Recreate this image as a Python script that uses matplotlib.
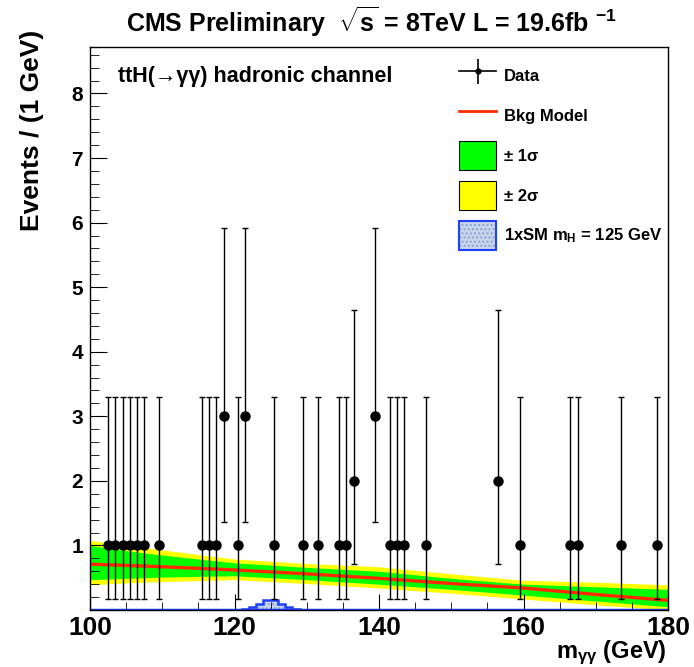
"""CMS ttH(->gg) hadronic channel: diphoton mass spectrum with background model."""

import matplotlib

matplotlib.use("Agg")
import matplotlib.pyplot as plt
from matplotlib.lines import Line2D
from matplotlib.patches import Patch
from matplotlib.legend_handler import HandlerTuple

plt.rcParams["font.family"] = ["Liberation Sans", "DejaVu Sans"]
plt.rcParams["font.weight"] = "bold"
plt.rcParams["mathtext.fontset"] = "custom"
plt.rcParams["mathtext.rm"] = "Liberation Sans:bold"
plt.rcParams["mathtext.it"] = "Liberation Sans:bold"
plt.rcParams["mathtext.bf"] = "Liberation Sans:bold"

# observed events (1 GeV bins, centres)
mass = [102.5, 103.5, 104.5, 105.5, 106.5, 107.5, 109.5, 115.5, 116.5, 117.5,
        118.5, 120.5, 121.5, 125.5, 129.5, 131.5, 134.5, 135.5, 136.5, 139.5,
        141.5, 142.5, 143.5, 146.5, 156.5, 159.5, 166.5, 167.5, 173.5, 178.5]
counts = [1, 1, 1, 1, 1, 1, 1, 1, 1, 1,
          3, 1, 3, 1, 1, 1, 1, 1, 2, 3,
          1, 1, 1, 1, 2, 1, 1, 1, 1, 1]
# poisson interval ends
poisson_lo = {1: 0.17, 2: 0.71, 3: 1.37}
poisson_hi = {1: 3.30, 2: 4.64, 3: 5.92}

# background model and bands
bkg_x = [100, 105, 110, 120, 130, 140, 150, 160, 170, 180]
bkg = [0.71, 0.69, 0.67, 0.62, 0.56, 0.49, 0.41, 0.34, 0.24, 0.15]
one_lo = [0.47, 0.49, 0.51, 0.53, 0.47, 0.40, 0.32, 0.23, 0.14, 0.05]
one_hi = [1.00, 0.92, 0.85, 0.73, 0.66, 0.60, 0.49, 0.40, 0.36, 0.32]
two_lo = [0.39, 0.42, 0.44, 0.47, 0.41, 0.34, 0.26, 0.17, 0.08, 0.00]
two_hi = [1.08, 1.00, 0.93, 0.79, 0.72, 0.67, 0.56, 0.46, 0.43, 0.39]

# 1xSM signal, mH = 125 GeV
sig_edges = [121, 122, 123, 124, 125, 126, 127, 128, 129]
sig_vals = [0.015, 0.05, 0.10, 0.15, 0.15, 0.10, 0.05, 0.015]

W, H = 694, 667
fig = plt.figure(figsize=(W / 100, H / 100), dpi=100)
ax = fig.add_axes([90 / W, 57 / H, 578 / W, 563 / H])

ax.fill_between(bkg_x, two_lo, two_hi, color="#ffff00", lw=0)
ax.fill_between(bkg_x, one_lo, one_hi, color="#00ff00", lw=0)
ax.plot(bkg_x, bkg, color="#ff2a00", lw=2.4)

ax.stairs(sig_vals, sig_edges, fill=True, facecolor="#c8d4ea", edgecolor="#8aa4d8",
          hatch="....", lw=0)
ax.stairs(sig_vals, sig_edges, color="#1f3fff", lw=1.8)
ax.axhline(0, color="#1f3fff", lw=2.5)

lo = [c - poisson_lo[c] for c in counts]
hi = [poisson_hi[c] - c for c in counts]
ax.errorbar(mass, counts, yerr=[lo, hi], fmt="o", color="black", ms=6.5,
            elinewidth=1, capsize=2, capthick=1)

ax.set_xlim(100, 180)
ax.set_ylim(0, 8.72)
ax.set_xticks([100, 120, 140, 160, 180])
ax.set_xticks(range(100, 181, 5), minor=True)
ax.set_yticks(range(1, 9))
ax.set_yticks([i * 0.2 for i in range(44)], minor=True)
ax.tick_params(which="both", direction="in", top=False, right=False)
ax.tick_params(axis="y", which="major", length=12, labelsize=15, pad=5)
ax.tick_params(axis="y", which="minor", length=6.5)
ax.tick_params(axis="x", which="major", length=11.5, labelsize=19, pad=4)
ax.tick_params(axis="x", which="minor", length=6)
for s in ax.spines.values():
    s.set_linewidth(1)

ax.text(0.048, 0.948, "ttH(\u2192\u03b3\u03b3) hadronic channel", transform=ax.transAxes,
        fontsize=15.5, fontweight="bold", va="center", ha="left")

fig.text(0.535, 1 - 22 / H, r"CMS Preliminary  $\sqrt{s}$ = 8TeV L = 19.6fb $^{-1}$",
         fontsize=18, fontweight="bold", ha="center", va="center")
fig.text(32 / W, 1 - 30 / H, "Events / (1 GeV)", rotation=90, fontsize=19,
         fontweight="bold", ha="center", va="top")
fig.text(667 / W, 1 - 653 / H, r"m$_{\gamma\gamma}$ (GeV)", fontsize=17,
         fontweight="bold", ha="right", va="center")

h_data = (Line2D([], [], color="black", lw=1.2),
          Line2D([], [], color="black", marker="|", ms=18, mew=1.2, ls="none"),
          Line2D([], [], color="black", marker="o", ms=3.5, ls="none"))
h_bkg = Line2D([], [], color="#ff2a00", lw=2)
h_one = Patch(facecolor="#00ff00", edgecolor="black", lw=0.8)
h_two = Patch(facecolor="#ffff00", edgecolor="black", lw=0.8)
h_sig = (Patch(facecolor="#c8d4ea", edgecolor="#8aa4d8", hatch="....", lw=0),
         Patch(fill=False, edgecolor="#1f3fff", lw=1.5))
ax.legend([h_data, h_bkg, h_one, h_two, h_sig],
          ["Data", "Bkg Model", "\u00b1 1\u03c3", "\u00b1 2\u03c3", r"1xSM m$_{H}$ = 125 GeV"],
          handler_map={tuple: HandlerTuple(ndivide=1, pad=0)},
          loc="upper left", bbox_to_anchor=((459 - 90) / 578, (610 - 61) / 563),
          frameon=False, borderpad=0, borderaxespad=0,
          handlelength=2.22, handleheight=2.30, labelspacing=0.66, handletextpad=0.48,
          prop={"weight": "bold", "size": 12})

fig.savefig("out.png", dpi=100, facecolor="white")
